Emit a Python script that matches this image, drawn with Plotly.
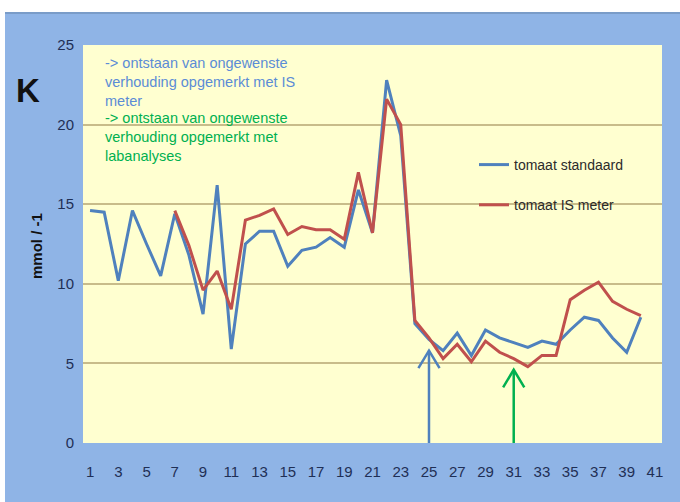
import plotly.graph_objects as go

days = list(range(1, 41))
standaard = [14.6, 14.5, 10.2, 14.6, 12.5, 10.5, 14.4, 11.8, 8.1, 16.2,
             5.9, 12.5, 13.3, 13.3, 11.1, 12.1, 12.3, 12.9, 12.3, 15.9,
             13.2, 22.8, 19.3, 7.5, 6.5, 5.8, 6.9, 5.5, 7.1, 6.6,
             6.3, 6.0, 6.4, 6.2, 7.1, 7.9, 7.7, 6.6, 5.7, 7.9]
is_meter = [None, None, None, None, None, None, 14.6, 12.4, 9.6, 10.8,
            8.4, 14.0, 14.3, 14.7, 13.1, 13.6, 13.4, 13.4, 12.8, 17.0,
            13.2, 21.6, 20.0, 7.7, 6.6, 5.3, 6.2, 5.1, 6.4, 5.7,
            5.3, 4.8, 5.5, 5.5, 9.0, 9.6, 10.1, 8.9, 8.4, 8.0]
tick_vals = list(range(1, 42, 2))
y_ticks = [0, 5, 10, 15, 20, 25]
series_names = ["tomaat standaard", "tomaat IS meter"]
note_is = "-> ontstaan van ongewenste<br>verhouding opgemerkt met IS<br>meter"
note_lab = "-> ontstaan van ongewenste<br>verhouding opgemerkt met<br>labanalyses"
arrow_is = (25, 5.8)
arrow_lab = (31, 4.6)

BLUE = "#4F81BD"
RED = "#C0504D"
GREEN = "#00B050"
TICKC = "#1F2F55"
NARROW = "Liberation Sans Narrow, Arial Narrow, sans-serif"

fig = go.Figure()
fig.add_trace(go.Scatter(x=days, y=standaard, mode="lines", name=series_names[0],
                         line=dict(color=BLUE, width=3), legendgroup="a"))
fig.add_trace(go.Scatter(x=days, y=is_meter, mode="lines", name=series_names[1],
                         line=dict(color=RED, width=3), legendgroup="b"))

W, H = 680, 502
L, R, T, B = 83, 18, 45, 59
pw, ph = W - L - R, H - T - B

def px(xp):
    return (xp - L) / pw

def py(yp):
    return (H - B - yp) / ph

shapes = [
    dict(type="rect", xref="paper", yref="paper", x0=px(0), x1=px(W), y0=py(0), y1=py(12),
         fillcolor="white", line=dict(width=0), layer="below"),
    dict(type="rect", xref="paper", yref="paper", x0=px(0), x1=px(5), y0=py(0), y1=py(H),
         fillcolor="white", line=dict(width=0), layer="below"),
    dict(type="rect", xref="paper", yref="paper", x0=px(5), x1=px(W), y0=py(12), y1=py(14),
         fillcolor="#7A9CC8", line=dict(width=0), layer="below"),
]

# arrows (shaft + open V head) in data coordinates
HX, HY = 0.75, 1.1
for (ax_, tip), col in [(arrow_is, BLUE), (arrow_lab, GREEN)]:
    shapes.append(dict(type="line", xref="x", yref="y", x0=ax_, x1=ax_, y0=-0.3, y1=tip,
                       line=dict(color=col, width=2.5)))
    shapes.append(dict(type="path", xref="x", yref="y",
                       path=f"M {ax_-HX},{tip-HY} L {ax_},{tip} L {ax_+HX},{tip-HY}",
                       line=dict(color=col, width=2.5)))

annotations = [
    dict(xref="paper", yref="paper", x=px(103), y=py(53), xanchor="left", yanchor="top",
         text=note_is, showarrow=False, align="left",
         font=dict(family="Liberation Sans, Arial, sans-serif", size=14.5, color="#5B8CD6")),
    dict(xref="paper", yref="paper", x=px(103), y=py(108), xanchor="left", yanchor="top",
         text=note_lab, showarrow=False, align="left",
         font=dict(family="Liberation Sans, Arial, sans-serif", size=14.5, color=GREEN)),
    dict(xref="paper", yref="paper", x=px(28), y=py(90), xanchor="center", yanchor="middle",
         text="<b>K</b>", showarrow=False,
         font=dict(family=NARROW, size=33, color="#111111")),
    dict(xref="paper", yref="paper", x=px(36), y=py(246), xanchor="center", yanchor="middle",
         text="<b>mmol / -1</b>", showarrow=False, textangle=-90,
         font=dict(family=NARROW, size=15, color="#111111")),
]

fig.update_layout(
    width=W, height=H,
    margin=dict(l=L, r=R, t=T, b=B),
    paper_bgcolor="#8FB4E6",
    plot_bgcolor="#FFFFD0",
    shapes=shapes,
    annotations=annotations,
    showlegend=True,
    legend=dict(x=px(474), y=py(149), xanchor="left", yanchor="top",
                bgcolor="rgba(0,0,0,0)", tracegroupgap=19,
                font=dict(family=NARROW, size=14, color="#2B2B2B"),
                itemwidth=30),
    xaxis=dict(range=[0.5, 41.5], tickvals=tick_vals, ticktext=[str(v) for v in tick_vals],
               showgrid=False, zeroline=False, showline=False, ticks="",
               ticklabelstandoff=18,
               tickfont=dict(family=NARROW, size=15, color=TICKC)),
    yaxis=dict(range=[0, 25], tickvals=y_ticks, showgrid=True, gridcolor="#C8BC8A",
               gridwidth=1.5, zeroline=False, showline=False, ticks="",
               ticklabelstandoff=8,
               tickfont=dict(family=NARROW, size=15, color=TICKC)),
)

fig.write_html("out.html", config={"displayModeBar": False},
               post_script="document.body.style.margin='0';")
